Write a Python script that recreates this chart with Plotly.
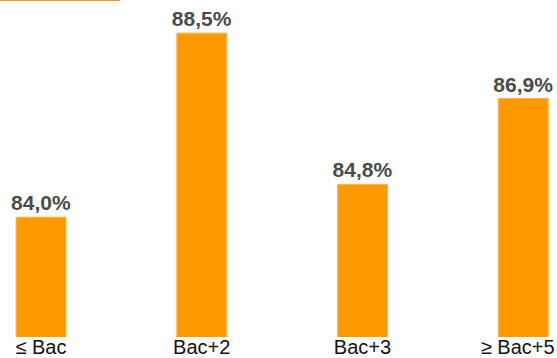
import plotly.graph_objects as go

categories = ["≤ Bac", "Bac+2", "Bac+3", "≥ Bac+5\u00a0\u00a0"]
values = [84.0, 88.5, 84.8, 86.9]
labels = ["84,0%", "88,5%", "84,8%", "86,9%"]

fig = go.Figure(go.Bar(
    x=list(range(len(categories))),
    y=values,
    text=["<b>" + t + "</b>" for t in labels],
    textposition="outside",
    constraintext="none",
    cliponaxis=False,
    marker=dict(color="#FF9900", line=dict(color="#FFB54D", width=1)),
    width=0.31,
    textfont=dict(family="Liberation Sans, Arial", size=21, color="#4A4A4A"),
))

fig.update_layout(
    width=557, height=358,
    margin=dict(l=0, r=0, t=0, b=21),
    paper_bgcolor="white", plot_bgcolor="white",
    showlegend=False,
    font=dict(family="Liberation Sans, Arial"),
    shapes=[dict(type="line", xref="paper", yref="paper", x0=0, x1=120/557, y0=1, y1=1,
                 line=dict(color="#FF9900", width=2))],
)
fig.update_xaxes(
    tickmode="array", tickvals=list(range(len(categories))), ticktext=categories,
    range=[-0.255, 3.21], showgrid=False, zeroline=False, showline=False, ticks="",
    tickfont=dict(size=20, color="#111111"), automargin=False,
    ticklabeloverflow="allow", ticklabelstandoff=-4,
)
fig.update_yaxes(range=[81.07, 89.31], visible=False, showgrid=False, automargin=False)

fig.write_html("out.html", config={"displayModeBar": False},
               post_script="document.body.style.margin='0';document.body.style.overflow='hidden';")
